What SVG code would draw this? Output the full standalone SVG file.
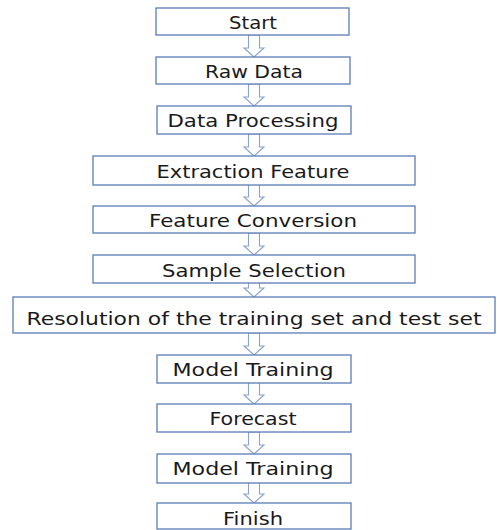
<svg xmlns="http://www.w3.org/2000/svg" width="497" height="530" viewBox="0 0 497 530">
  <defs>
    <style>
      .box { fill: #ffffff; stroke: #5b7cb5; stroke-width: 1.3; }
      .lbl { font-family: "DejaVu Sans", "Noto Sans", sans-serif; font-size: 18px; fill: #1a1a1a; text-anchor: middle; }
      .arrow { fill: #ffffff; stroke: #8aa2cf; stroke-width: 1.1; stroke-linejoin: miter; }
    </style>
    <!-- hollow block arrow, tip at origin, pointing down -->
    <path id="dn" d="M -5.5 -22 L 5.5 -22 L 5.5 -9 L 10 -9 L 0 0 L -10 -9 L -5.5 -9 Z"/>
  </defs>
  <rect width="497" height="530" fill="#ffffff"/>

  <g id="connectors">
    <use href="#dn" class="arrow" x="254" y="57"/>
    <use href="#dn" class="arrow" x="254" y="106"/>
    <use href="#dn" class="arrow" x="254" y="156"/>
    <use href="#dn" class="arrow" x="254" y="206"/>
    <use href="#dn" class="arrow" x="254" y="255"/>
    <use href="#dn" class="arrow" x="254" y="297"/>
    <use href="#dn" class="arrow" x="254" y="355"/>
    <use href="#dn" class="arrow" x="254" y="404"/>
    <use href="#dn" class="arrow" x="254" y="454"/>
    <use href="#dn" class="arrow" x="254" y="503"/>
  </g>

  <g id="start">
    <rect class="box" x="156" y="8" width="193" height="27"/>
    <text class="lbl" x="253" y="29" textLength="48" lengthAdjust="spacingAndGlyphs">Start</text>
  </g>
  <g id="raw-data">
    <rect class="box" x="156" y="57" width="194" height="27"/>
    <text class="lbl" x="254" y="78" textLength="98" lengthAdjust="spacingAndGlyphs">Raw Data</text>
  </g>
  <g id="data-processing">
    <rect class="box" x="157" y="106" width="194" height="28"/>
    <text class="lbl" x="253" y="127" textLength="171" lengthAdjust="spacingAndGlyphs">Data Processing</text>
  </g>
  <g id="extraction-feature">
    <rect class="box" x="93" y="156" width="322" height="29"/>
    <text class="lbl" x="253" y="178" textLength="193" lengthAdjust="spacingAndGlyphs">Extraction Feature</text>
  </g>
  <g id="feature-conversion">
    <rect class="box" x="93" y="206" width="322" height="27"/>
    <text class="lbl" x="253" y="227" textLength="208" lengthAdjust="spacingAndGlyphs">Feature Conversion</text>
  </g>
  <g id="sample-selection">
    <rect class="box" x="93" y="255" width="322" height="28"/>
    <text class="lbl" x="254" y="277" textLength="184" lengthAdjust="spacingAndGlyphs">Sample Selection</text>
  </g>
  <g id="split-sets">
    <rect class="box" x="13" y="297" width="482" height="36"/>
    <text class="lbl" x="254" y="325" textLength="455" lengthAdjust="spacingAndGlyphs">Resolution of the training set and test set</text>
  </g>
  <g id="model-training-1">
    <rect class="box" x="157" y="355" width="194" height="28"/>
    <text class="lbl" x="253" y="376" textLength="161" lengthAdjust="spacingAndGlyphs">Model Training</text>
  </g>
  <g id="forecast">
    <rect class="box" x="157" y="404" width="194" height="28"/>
    <text class="lbl" x="253" y="425" textLength="87" lengthAdjust="spacingAndGlyphs">Forecast</text>
  </g>
  <g id="model-training-2">
    <rect class="box" x="157" y="454" width="194" height="29"/>
    <text class="lbl" x="253" y="475" textLength="161" lengthAdjust="spacingAndGlyphs">Model Training</text>
  </g>
  <g id="finish">
    <rect class="box" x="157" y="503" width="194" height="26"/>
    <text class="lbl" x="253" y="525" textLength="60" lengthAdjust="spacingAndGlyphs">Finish</text>
  </g>
</svg>
